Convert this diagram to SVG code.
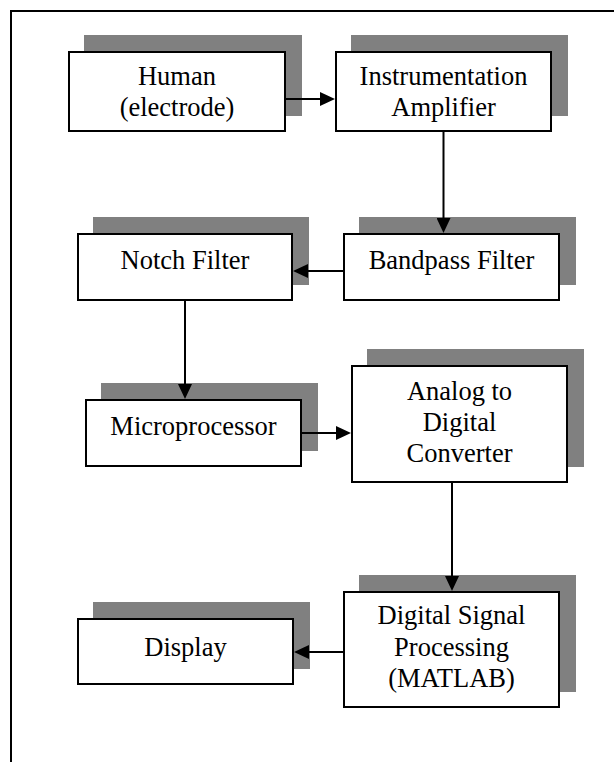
<svg xmlns="http://www.w3.org/2000/svg" width="614" height="762" viewBox="0 0 614 762">
  <style>
    .shadow { fill: #808080; }
    .box { fill: #ffffff; stroke: #000000; stroke-width: 2; }
    .wire { fill: none; stroke: #000000; stroke-width: 2; }
    .frame { fill: none; stroke: #000000; stroke-width: 2; }
  </style>
  <defs>
    <marker id="arrow" viewBox="0 0 15 14" refX="5" refY="7" markerWidth="15" markerHeight="14" markerUnits="userSpaceOnUse" orient="auto">
      <path d="M0,0 L15,7 L0,14 z" fill="#000000"/>
    </marker>
  </defs>

  <rect width="614" height="762" fill="#ffffff"/>

  <!-- page frame (left and top edges) -->
  <path class="frame" d="M11,762 V11 H614"/>

  <g font-family="Liberation Serif, Times New Roman, serif" font-size="26.5" fill="#000000" text-anchor="middle">
    <g id="human">
      <rect class="shadow" x="84" y="35" width="218" height="81"/>
      <rect class="box" x="69" y="52" width="216" height="79"/>
      <text x="177" y="85">Human</text>
      <text x="177" y="116">(electrode)</text>
    </g>

    <g id="instrumentation-amplifier">
      <rect class="shadow" x="351" y="35" width="217" height="81"/>
      <rect class="box" x="336" y="52" width="215" height="79"/>
      <text x="443.5" y="85">Instrumentation</text>
      <text x="443.5" y="116">Amplifier</text>
    </g>

    <g id="notch-filter">
      <rect class="shadow" x="93" y="217" width="216" height="68"/>
      <rect class="box" x="78" y="234" width="214" height="66"/>
      <text x="185" y="269">Notch Filter</text>
    </g>

    <g id="bandpass-filter">
      <rect class="shadow" x="359" y="217" width="217" height="68"/>
      <rect class="box" x="344" y="234" width="215" height="66"/>
      <text x="451.5" y="269">Bandpass Filter</text>
    </g>

    <g id="microprocessor">
      <rect class="shadow" x="101" y="383" width="217" height="68"/>
      <rect class="box" x="86" y="400" width="215" height="66"/>
      <text x="193.5" y="435">Microprocessor</text>
    </g>

    <g id="adc">
      <rect class="shadow" x="367" y="349" width="217" height="118"/>
      <rect class="box" x="352" y="366" width="215" height="116"/>
      <text x="459.5" y="400">Analog to</text>
      <text x="459.5" y="431">Digital</text>
      <text x="459.5" y="462">Converter</text>
    </g>

    <g id="display">
      <rect class="shadow" x="93" y="602" width="217" height="67"/>
      <rect class="box" x="78" y="619" width="215" height="65"/>
      <text x="185.5" y="656">Display</text>
    </g>

    <g id="dsp">
      <rect class="shadow" x="359" y="575" width="217" height="117"/>
      <rect class="box" x="344" y="592" width="215" height="115"/>
      <text x="451.5" y="624">Digital Signal</text>
      <text x="451.5" y="656">Processing</text>
      <text x="451.5" y="687">(MATLAB)</text>
    </g>
  </g>

  <g id="connectors">
    <path class="wire" d="M286,99 H325" marker-end="url(#arrow)"/>
    <path class="wire" d="M443.5,132 V223" marker-end="url(#arrow)"/>
    <path class="wire" d="M343,271 H303" marker-end="url(#arrow)"/>
    <path class="wire" d="M185,301 V389" marker-end="url(#arrow)"/>
    <path class="wire" d="M302,433 H341" marker-end="url(#arrow)"/>
    <path class="wire" d="M452,483 V581" marker-end="url(#arrow)"/>
    <path class="wire" d="M343,652 H304" marker-end="url(#arrow)"/>
  </g>
</svg>
